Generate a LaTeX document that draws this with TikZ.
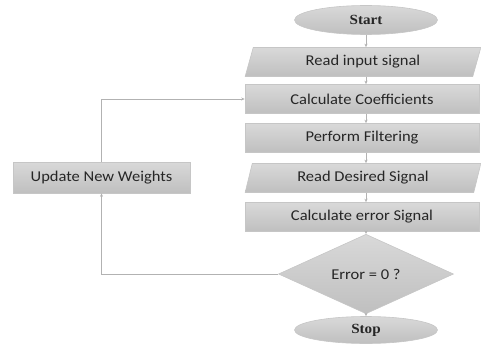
\documentclass[tikz,border=0pt]{standalone}
\usepackage{fontspec}
\usetikzlibrary{shapes.geometric,arrows.meta}
\newfontfamily\boxfont[FakeStretch=1.1]{Carlito}
\newfontfamily\termfont[FakeStretch=1.08]{Liberation Serif}
\begin{document}
\begin{tikzpicture}[x=1pt,y=-1pt,
  shapefill/.style={draw=gray!45, line width=0.6pt, top color=gray!30, bottom color=gray!50, text=black!85},
  boxtext/.style={font=\boxfont\fontsize{15}{18}\selectfont},
  termtext/.style={font=\termfont\bfseries\fontsize{14}{16}\selectfont},
  procbox/.style={shapefill, boxtext, rectangle, minimum width=234pt, minimum height=29pt, inner sep=0pt},
  iobox/.style={shapefill, boxtext, trapezium, trapezium left angle=72, trapezium right angle=108, trapezium stretches=true, minimum width=236pt, minimum height=29pt, inner sep=0pt},
  termshape/.style={shapefill, termtext, ellipse, minimum width=143pt, minimum height=29pt, inner sep=0pt},
  decshape/.style={shapefill, boxtext, diamond, minimum width=175pt, minimum height=68pt, inner sep=0pt},
  conn/.style={draw=gray!60, line width=0.6pt},
  arr/.style={conn, -{Stealth[length=3.5pt,width=3pt]}}
]
\useasboundingbox (0,0) rectangle (481,345);
\node[termshape] (start) at (366,20) {Start};
\node[iobox] (rin) at (363,62) {Read input signal};
\node[procbox] (coef) at (362,99) {Calculate Coefficients};
\node[procbox] (filt) at (362,138) {Perform Filtering};
\node[iobox] (rdes) at (363,178) {Read Desired Signal};
\node[procbox] (err) at (362,217) {Calculate error Signal};
\node[decshape] (dec) at (366,274) {Error = 0 ?};
\node[termshape, minimum height=27pt] (stop) at (366,330) {Stop};
\node[procbox, minimum width=177pt, minimum height=31pt] (upd) at (101.5,177.5) {Update New Weights};

\draw[arr] (start.south) -- (start.south |- rin.north);
\draw[arr] (start.south |- rin.south) -- (start.south |- coef.north);
\draw[arr] (start.south |- coef.south) -- (start.south |- filt.north);
\draw[arr] (start.south |- filt.south) -- (start.south |- rdes.north);
\draw[arr] (start.south |- rdes.south) -- (start.south |- err.north);
\draw[arr] (start.south |- err.south) -- (dec.north);
\draw[arr] (dec.south) -- (stop.north);
\draw[arr] (dec.west) -| (upd.south);
\draw[arr] (upd.north) |- (coef.west);
\end{tikzpicture}
\end{document}
